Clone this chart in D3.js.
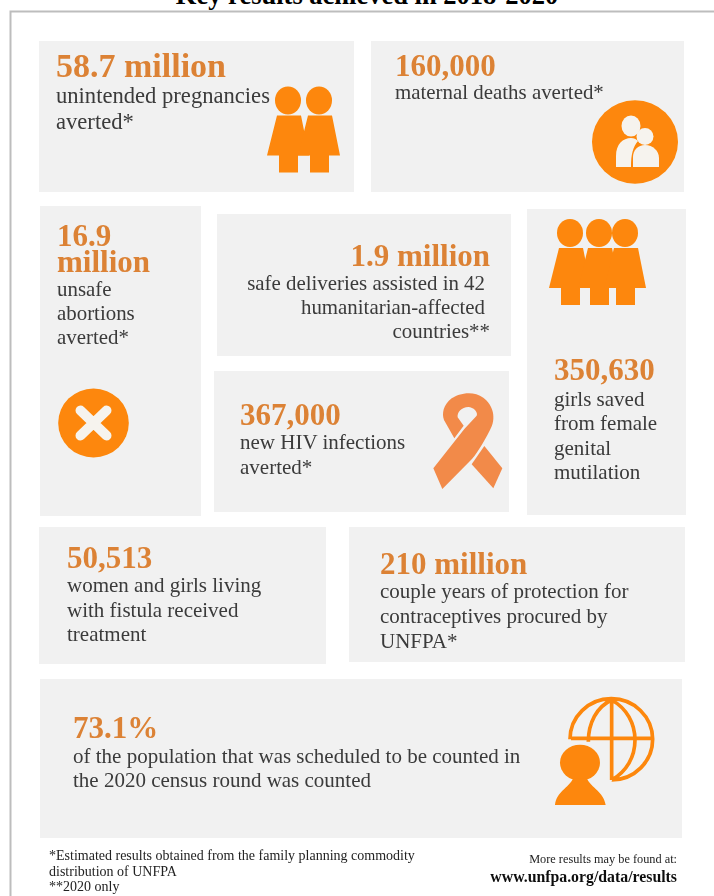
<!DOCTYPE html>
<html><head><meta charset="utf-8">
<style>html,body{margin:0;padding:0;background:#fff;overflow:hidden}svg{display:block}text{font-family:"Liberation Serif",serif}</style>
<script src="https://cdn.jsdelivr.net/npm/d3@7"></script>
</head><body><svg id="c" width="714" height="896"></svg>
<script>
const titleText = "Key results achieved in 2018-2020";
const headlines = [["58.7 million"],["160,000"],["16.9","million"],["1.9 million"],["367,000"],["350,630"],["50,513"],["210 million"],["73.1%"]];
const descriptions = [
  ["unintended pregnancies","averted*"],
  ["maternal deaths averted*"],
  ["unsafe","abortions","averted*"],
  ["safe deliveries assisted in 42","humanitarian-affected","countries**"],
  ["new HIV infections","averted*"],
  ["girls saved","from female","genital","mutilation"],
  ["women and girls living","with fistula received","treatment"],
  ["couple years of protection for","contraceptives procured by","UNFPA*"],
  ["of the population that was scheduled to be counted in","the 2020 census round was counted"]
];
const panelBoxes = [[39,41,354,192],[371,41,684,192],[40,206,201,516],[217,214,511,356],[214,371,509,512],[527,209,686,515],[39,527,326,664],[349,527,685,662],[40,679,682,838]];
const headSpec = [[56,77,34,"start"],[395,76,31,"start"],[57,246,31,"start"],[490,266,31,"end"],[240,425,31,"start"],[554,380,31,"start"],[67,568,31,"start"],[380,574,31,"start"],[73,738,31,"start"]];
const descSpec = [[56,103,25.5,22.6,"start"],[395,99,24,20.9,"start"],[57,296,24,20.9,"start"],[485,290,24,20.9,"end"],[240,449,24.5,21,"start"],[554,406,24.4,21,"start"],[67,592,24.6,21,"start"],[380,598,25,21,"start"],[73,763,24,21,"start"]];
const footLeft = ["*Estimated results obtained from the family planning commodity","distribution of UNFPA","**2020 only"];
const footRight = ["More results may be found at:","www.unfpa.org/data/results"];
const coupleX = [288,319];
const trioX = [570,599,625];

const svg = d3.select("#c");
svg.append("defs").append("filter").attr("id","soft").append("feGaussianBlur").attr("stdDeviation",0.45);
const orange = "#fd8708", numCol = "#dc8235", txtCol = "#3a3a3a", paper = "#f6f3ee";

svg.append("text").attr("x",367).attr("y",4).attr("text-anchor","middle")
  .attr("font-size",26.5).attr("font-weight","bold").attr("fill","#000").text(titleText);
svg.append("path").attr("d","M714,11.5H10.5V896").attr("fill","none").attr("stroke","#bdbdbd").attr("stroke-width",2);

const g = svg.append("g").attr("filter","url(#soft)");
g.selectAll("rect.panel").data(panelBoxes).join("rect").attr("class","panel")
  .attr("x",d=>d[0]).attr("y",d=>d[1]).attr("width",d=>d[2]-d[0]).attr("height",d=>d[3]-d[1]).attr("fill","#f1f1f1");

headlines.forEach((lines,i)=>{
  const s = headSpec[i];
  g.selectAll(null).data(lines).join("text").attr("x",s[0]).attr("y",(d,k)=>s[1]+k*26).attr("text-anchor",s[3])
    .attr("font-size",s[2]).attr("font-weight","bold").attr("fill",numCol).text(d=>d);
});
descriptions.forEach((lines,i)=>{
  const s = descSpec[i];
  g.selectAll(null).data(lines).join("text").attr("x",s[0]).attr("y",(d,k)=>s[1]+k*s[2])
    .attr("text-anchor",s[4]).attr("font-size",s[3]).attr("fill",txtCol)
    .text(d=>d);
});
// last line of the 1.9 million panel sits slightly further right
g.selectAll("text").filter(function(){return d3.select(this).text()==="countries**";}).attr("x",490);

function person(x,y){
  const q = g.append("g").attr("transform",`translate(${x},${y})`).attr("fill",orange);
  q.append("ellipse").attr("rx",13).attr("ry",14);
  q.append("path").attr("d","M-11,15H13L21,55H10V72H-9V55H-21Z");
}
coupleX.forEach(x=>person(x,100.5));
trioX.forEach(x=>person(x,233));

// mother and child disc
const disc = g.append("g").attr("transform","translate(635,142)");
disc.append("ellipse").attr("rx",43).attr("ry",41.7).attr("fill",orange);
disc.append("ellipse").attr("cx",-4).attr("cy",-16).attr("rx",9.5).attr("ry",10.5).attr("fill",paper);
disc.append("ellipse").attr("cx",10).attr("cy",-5.5).attr("rx",8.5).attr("ry",8.5).attr("fill",paper);
disc.append("path").attr("d","M-19,25V14C-19,2 -12,-4 -4,-4C-1,-4 1,-3 3,-1C-2,5 -4,12 -4,25Z").attr("fill",paper);
disc.append("path").attr("d","M-2,25V15C-2,8 3,3 10,3C18,3 24,9 24,16V25Z").attr("fill",paper);

// cross disc
const cross = g.append("g").attr("transform","translate(93.5,423)");
cross.append("ellipse").attr("rx",35.3).attr("ry",34.5).attr("fill",orange);
cross.append("path").attr("d","M-13,-12.5L13,12.5M13,-12.5L-13,12.5").attr("stroke",paper).attr("stroke-width",10).attr("stroke-linecap","round");

// ribbon
const rib = g.append("g").attr("transform","translate(425,385) scale(0.3333)").attr("fill","#f28a4a");
rib.append("path").attr("d","M25,250L118,132L155,92C160,82 145,66 130,66C110,66 96,82 98,97L116,122L88,160L57,105C50,85 55,60 80,40C100,25 145,15 175,38C205,60 215,100 195,135C175,175 150,215 135,228L52,312Z");
rib.append("path").attr("d","M178,183L232,250L205,310L140,238Z");

// globe and person
const globe = g.append("g").attr("transform","translate(545,690) scale(0.3333)");
globe.append("path").attr("fill","none").attr("stroke",orange).attr("stroke-width",11)
  .attr("d","M75,148A124,122 0 1 1 200,270M200,30V270M78,145H325M200,30C155,50 130,100 130,155M200,30C245,55 270,100 270,150C270,200 245,245 200,270");
globe.append("ellipse").attr("cx",105).attr("cy",218).attr("rx",60).attr("ry",54).attr("fill",orange);
globe.append("path").attr("fill",orange).attr("d","M30,345C35,305 70,295 85,265H125C140,295 175,305 182,345Z");

// footnotes
g.selectAll(null).data(footLeft).join("text").attr("x",49).attr("y",(d,i)=>860+i*15.5).attr("font-size",14).attr("fill","#222").text(d=>d);
g.append("text").attr("x",677).attr("y",863).attr("text-anchor","end").attr("font-size",12.3).attr("fill","#222").text(footRight[0]);
g.append("text").attr("x",677).attr("y",882).attr("text-anchor","end").attr("font-size",15.8).attr("font-weight","bold").attr("fill","#111").text(footRight[1]);
</script></body></html>
